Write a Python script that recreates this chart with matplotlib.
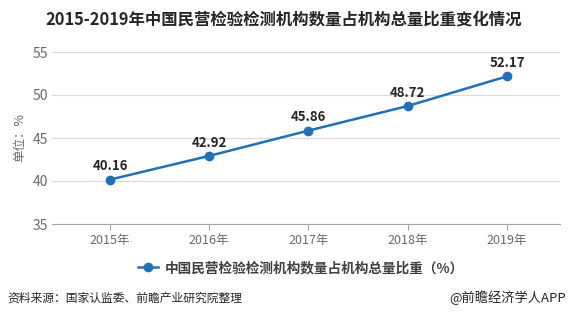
import matplotlib.pyplot as plt

plt.rcParams['font.family'] = ['Noto Sans CJK SC', 'DejaVu Sans']

years = ['2015年', '2016年', '2017年', '2018年', '2019年']
share = [40.16, 42.92, 45.86, 48.72, 52.17]
yticks = [35, 40, 45, 50, 55]

line_color = '#2270b6'
grid_color = '#d9d9d9'
text_gray = '#6b6b6b'

fig = plt.figure(figsize=(5.68, 3.23), dpi=100)
ax = fig.add_axes([52/568, 1 - 224/323, (560 - 52)/568, (224 - 52)/323])

x = range(len(years))
ax.plot(x, share, color=line_color, lw=1.8, marker='o', ms=6,
        label='中国民营检验检测机构数量占机构总量比重（%）')
for i, v in zip(x, share):
    ax.annotate(f'{v:.2f}', (i, v), xytext=(0, 4.5), textcoords='offset points',
                ha='center', va='bottom', fontsize=9.5, fontweight='bold', color='#262626')

ax.set_xlim(-0.584, 4.534)
ax.set_ylim(35, 55)
ax.set_yticks(yticks)
ax.set_xticks(list(x))
ax.set_xticklabels(years)
ax.yaxis.grid(True, color=grid_color, lw=0.8)
ax.set_axisbelow(True)
for s in ['top', 'right', 'left']:
    ax.spines[s].set_visible(False)
ax.spines['bottom'].set_color('#a6a6a6')
ax.tick_params(axis='y', length=0, labelsize=10, labelcolor=text_gray, pad=3)
ax.tick_params(axis='x', length=4, color='#a6a6a6', labelsize=9, labelcolor=text_gray, pad=3)
ax.set_ylabel('单位：%', fontsize=9, color=text_gray, labelpad=4)

fig.text(284/568, 1 - 19/323, '2015-2019年中国民营检验检测机构数量占机构总量比重变化情况',
         ha='center', va='center', fontsize=11.8, fontweight='bold', color='#262626')

leg = fig.legend(loc='center', bbox_to_anchor=(0.53, 1 - 268/323), frameon=False,
                 fontsize=9.8, handlelength=1.5, handletextpad=0.5)
for t in leg.get_texts():
    t.set_color('#404040')
    t.set_fontweight('bold')

fig.text(7/568, 1 - 298/323, '资料来源：国家认监委、前瞻产业研究院整理',
         ha='left', va='center', fontsize=8.5, color='#262626')
fig.text(566/568, 1 - 298/323, '@前瞻经济学人APP',
         ha='right', va='center', fontsize=9.5, color='#262626')

fig.savefig('out.png', dpi=100)
